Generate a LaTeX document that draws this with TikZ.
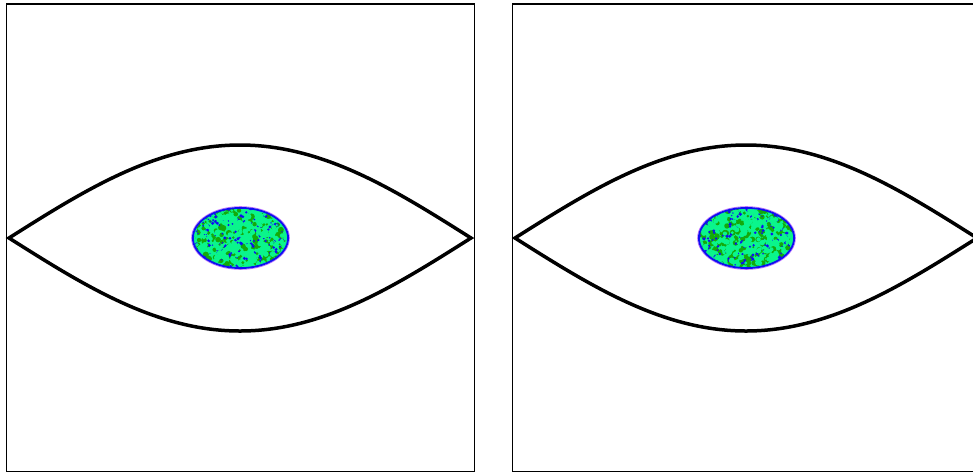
\documentclass[tikz,border=0pt]{standalone}
\definecolor{mintg}{RGB}{10,245,140}
\definecolor{darkg}{RGB}{20,170,10}
\definecolor{blu}{RGB}{15,15,240}
\definecolor{fringe}{RGB}{190,110,255}
\tikzset{
  framebox/.style={draw=black,line width=1.8pt},
  lensline/.style={draw=black,line width=3.5pt,line join=miter},
  rim/.style={draw=blu,line width=1.8pt},
  rimfringe/.style={draw=fringe,line width=0.8pt}
}
\newcommand\lenspanel[2]{%
  \begin{scope}[shift={(#1,0)}]
    \draw[framebox] (6.5,4) rectangle (474.5,471.5);
    \coordinate (tipL) at (9,238);
    \coordinate (topC) at (240,145);
    \coordinate (tipR) at (471,238);
    \coordinate (botC) at (240,331);
    \draw[lensline] (tipL) sin (topC) cos (tipR) sin (botC) cos (tipL) -- cycle;
    \coordinate (blob) at (240.5,238);
    \fill[mintg] (blob) ellipse [x radius=47.5, y radius=30];
    \begin{scope}
      \clip (blob) ellipse [x radius=47.5, y radius=30];
      \pgfmathsetseed{#2}
      \foreach \i in {1,...,230}{
        \pgfmathsetmacro\px{240.5+48*rand}
        \pgfmathsetmacro\py{238+31*rand}
        \pgfmathsetmacro\pr{1.0+2.2*rnd}
        \fill[darkg] (\px,\py) circle [radius=\pr];
      }
      \foreach \i in {1,...,170}{
        \pgfmathsetmacro\px{240.5+48*rand}
        \pgfmathsetmacro\py{238+31*rand}
        \pgfmathsetmacro\pr{0.7+1.1*rnd}
        \fill[blu] (\px,\py) circle [radius=\pr];
      }
      \foreach \i in {1,...,200}{
        \pgfmathsetmacro\px{240.5+48*rand}
        \pgfmathsetmacro\py{238+31*rand}
        \pgfmathsetmacro\pr{1.0+2.0*rnd}
        \fill[mintg] (\px,\py) circle [radius=\pr];
      }
    \end{scope}
    \draw[rimfringe] (blob) ellipse [x radius=48.9, y radius=31.4];
    \draw[rim] (blob) ellipse [x radius=47.6, y radius=30.1];
  \end{scope}}
\begin{document}
\begin{tikzpicture}[x=1pt,y=-1pt]
  \useasboundingbox (0,0) rectangle (973,475);
  \clip (0,0) rectangle (973,475);
  \fill[white] (0,0) rectangle (973,475);
  \lenspanel{0}{11}
  \lenspanel{506}{23}
\end{tikzpicture}
\end{document}
